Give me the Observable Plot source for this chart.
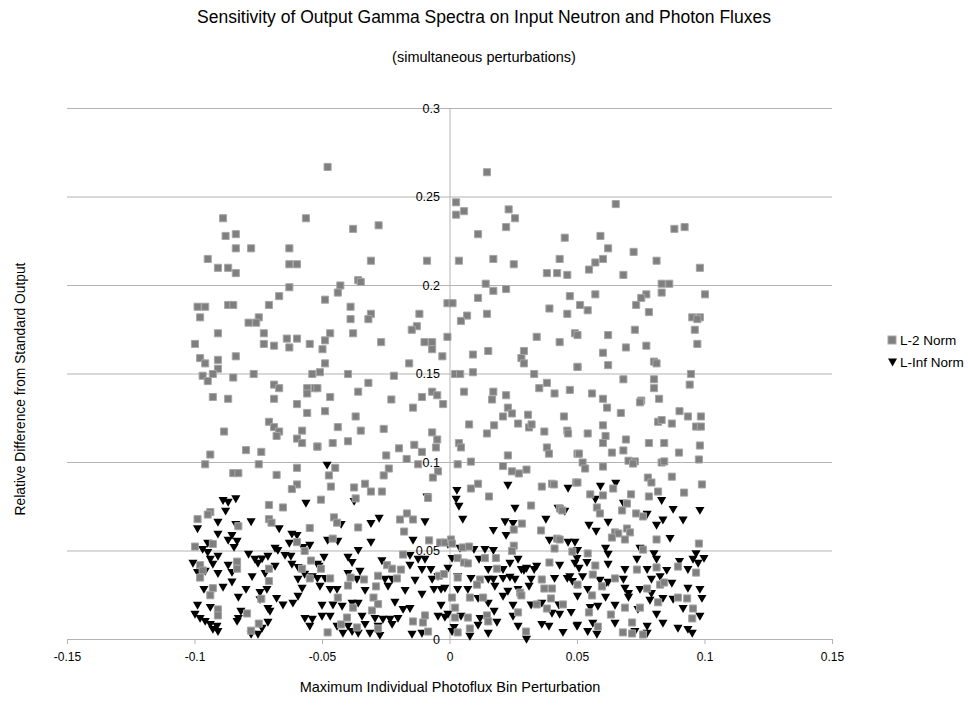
<!DOCTYPE html>
<html>
<head>
<meta charset="utf-8">
<script src="https://cdn.jsdelivr.net/npm/d3@7"></script>
<script src="https://cdn.jsdelivr.net/npm/@observablehq/plot@0.6"></script>
<style>
  html, body { margin: 0; padding: 0; background: #fff; }
  #wrap { position: relative; width: 968px; height: 707px; font-family: "Liberation Sans", Arial, sans-serif; color: #000; }
  #title { position: absolute; left: 0; width: 968px; top: 6px; text-align: center; font-size: 17.5px; line-height: 22px; }
  #subtitle { position: absolute; left: 0; width: 968px; top: 47px; text-align: center; font-size: 14.5px; line-height: 20px; }
  #chart { position: absolute; left: 0; top: 90px; }
  #legend { position: absolute; left: 887px; top: 329px; font-size: 13.5px; }
  .row { display: flex; align-items: center; height: 22px; }
  .row svg { margin-right: 2px; }
</style>
</head>
<body>
<div id="wrap">
  <div id="title"></div>
  <div id="subtitle"></div>
  <div id="chart"></div>
  <div id="legend"></div>
</div>
<script>
const titleText = "Sensitivity of Output Gamma Spectra on Input Neutron and Photon Fluxes";
const subtitleText = "(simultaneous perturbations)";
const xLabel = "Maximum Individual Photoflux Bin Perturbation";
const yLabel = "Relative Difference from Standard Output";
const seriesNames = ["L-2 Norm", "L-Inf Norm"];
const xTicks = [-0.15, -0.1, -0.05, 0, 0.05, 0.1, 0.15];
const xTickLabels = ["-0.15", "-0.1", "-0.05", "0", "0.05", "0.1", "0.15"];
const yTicks = [0, 0.05, 0.1, 0.15, 0.2, 0.25, 0.3];
const yTickLabels = ["0", "0.05", "0.1", "0.15", "0.2", "0.25", "0.3"];

// L-2 Norm series: [perturbation, relative difference]
const l2Norm = [
[-0.089,0.238],[-0.0565,0.238],[-0.088,0.228],[-0.084,0.229],[-0.084,0.221],[-0.078,0.221],[-0.063,0.221],
[-0.095,0.215],[-0.091,0.210],[-0.087,0.210],[-0.084,0.207],[-0.063,0.212],[-0.060,0.212],[-0.063,0.199],
[-0.067,0.194],[-0.071,0.189],[-0.099,0.188],[-0.096,0.188],[-0.087,0.189],[-0.085,0.189],[-0.098,0.182],
[-0.075,0.182],[-0.079,0.179],[-0.076,0.179],[-0.091,0.173],[-0.073,0.173],[-0.100,0.167],[-0.073,0.167],
[-0.069,0.166],[-0.064,0.170],[-0.060,0.170],[-0.063,0.165],[-0.055,0.167],[-0.098,0.159],[-0.096,0.156],
[-0.091,0.158],[-0.084,0.160],[-0.091,0.153],[-0.097,0.149],[-0.093,0.150],[-0.095,0.146],[-0.085,0.148],
[-0.077,0.150],[-0.069,0.144],[-0.067,0.142],[-0.054,0.150],[-0.056,0.142],[-0.053,0.142],[-0.093,0.137],
[-0.087,0.136],[-0.069,0.136],[-0.056,0.139],
[-0.048,0.267],[-0.038,0.232],[-0.028,0.234],[-0.031,0.214],[-0.009,0.214],[-0.036,0.203],[-0.035,0.202],
[-0.043,0.200],[-0.044,0.196],[-0.049,0.192],[-0.001,0.190],[-0.039,0.188],[-0.039,0.181],[-0.031,0.184],
[-0.032,0.181],[-0.012,0.184],[-0.013,0.177],[-0.015,0.175],[-0.047,0.173],[-0.049,0.169],[-0.038,0.173],
[-0.027,0.168],[-0.010,0.168],[-0.007,0.168],[-0.007,0.164],[-0.003,0.160],[-0.050,0.164],[-0.049,0.156],
[-0.016,0.156],[-0.051,0.151],[-0.040,0.150],[-0.022,0.149],[-0.052,0.142],[-0.036,0.140],[-0.032,0.145],
[-0.047,0.137],[-0.011,0.137],[-0.007,0.140],[-0.005,0.138],
[0.0145,0.264],[0.0024,0.247],[0.0055,0.242],[0.0024,0.240],[0.023,0.243],[0.0255,0.238],[0.022,0.233],
[0.011,0.229],[0.045,0.227],[0.0035,0.214],[0.017,0.215],[0.025,0.212],[0.043,0.215],[0.038,0.207],
[0.042,0.207],[0.046,0.206],[0.014,0.201],[0.017,0.197],[0.022,0.198],[0.047,0.194],[0.001,0.190],
[0.011,0.193],[0.0145,0.184],[0.0067,0.183],[0.0043,0.180],[0.039,0.187],[0.046,0.184],[-0.001,0.171],
[0.034,0.171],[0.043,0.168],[0.049,0.173],[0.009,0.161],[0.015,0.163],[0.029,0.163],[0.028,0.159],
[0.029,0.156],[0.050,0.154],[0.002,0.150],[0.004,0.150],[0.009,0.151],[0.033,0.150],[0.038,0.145],
[0.035,0.142],[0.0055,0.140],[0.017,0.140],[0.022,0.138],[0.041,0.139],[0.047,0.141],
[0.065,0.246],[0.059,0.228],[0.088,0.232],[0.092,0.233],[0.062,0.221],[0.072,0.219],[0.057,0.213],
[0.060,0.215],[0.0545,0.209],[0.081,0.214],[0.098,0.210],[0.068,0.206],[0.083,0.201],[0.086,0.201],
[0.083,0.196],[0.057,0.195],[0.077,0.195],[0.100,0.195],[0.075,0.193],[0.073,0.189],[0.051,0.189],
[0.054,0.186],[0.078,0.185],[0.095,0.182],[0.098,0.182],[0.097,0.181],[0.096,0.175],[0.0725,0.175],
[0.062,0.172],[0.050,0.172],[0.097,0.167],[0.060,0.162],[0.069,0.165],[0.077,0.166],[0.080,0.157],
[0.081,0.156],[0.062,0.155],[0.050,0.154],[0.0945,0.150],[0.068,0.147],[0.080,0.147],[0.094,0.144],
[0.080,0.142],[0.0557,0.139],[0.060,0.136],[0.075,0.135],[0.082,0.136],
[-0.060,0.133],[-0.056,0.128],[-0.071,0.123],[-0.069,0.120],[-0.067,0.1175],[-0.068,0.115],[-0.0886,0.1175],
[-0.058,0.118],[-0.060,0.1135],[-0.058,0.111],[-0.052,0.109],[-0.080,0.107],[-0.074,0.106],[-0.094,0.1045],
[-0.096,0.099],[-0.075,0.099],[-0.060,0.097],[-0.085,0.094],[-0.083,0.094],[-0.068,0.093],[-0.060,0.0876],
[-0.062,0.085],[-0.071,0.076],[-0.0655,0.0746],[-0.094,0.072],[-0.095,0.0706],[-0.071,0.068],[-0.070,0.066],
[-0.099,0.068],[-0.083,0.064],[-0.055,0.063],[-0.093,0.054],[-0.100,0.0525],[-0.060,0.055],[-0.057,0.050],
[-0.0545,0.0446],[-0.0835,0.044],[-0.0835,0.040],[-0.098,0.042],[-0.097,0.039],[-0.098,0.035],[-0.071,0.040],
[-0.071,0.033],[-0.058,0.040],[-0.055,0.0345],[-0.093,0.029],[-0.094,0.025],[-0.074,0.023],[-0.091,0.017],
[-0.091,0.0136],[-0.0796,0.0147],[-0.075,0.009],[-0.078,0.005],
[-0.023,0.1356],[-0.0027,0.133],[-0.049,0.129],[-0.0145,0.131],[-0.037,0.126],[-0.044,0.120],[-0.035,0.118],
[-0.026,0.119],[-0.007,0.117],[-0.005,0.113],[-0.052,0.109],[-0.046,0.111],[-0.040,0.112],[-0.014,0.110],
[-0.020,0.108],[-0.011,0.106],[-0.0055,0.1085],[-0.025,0.104],[-0.017,0.102],[-0.0125,0.099],[-0.045,0.097],
[-0.024,0.0966],[-0.0047,0.095],[-0.0475,0.0927],[-0.0067,0.0915],[-0.026,0.0927],[-0.0467,0.0864],[-0.0376,0.0859],
[-0.0333,0.088],[-0.031,0.0836],[-0.0267,0.0836],[-0.0506,0.079],[-0.037,0.0797],[-0.0086,0.080],[-0.0455,0.069],
[-0.0443,0.066],[-0.0169,0.0712],[-0.0196,0.0678],[-0.0145,0.0678],[-0.036,0.0633],[-0.018,0.061],[-0.046,0.057],
[-0.0082,0.056],[-0.0039,0.0548],[-0.002,0.0548],[-0.0184,0.048],[-0.0506,0.040],[-0.0247,0.042],[-0.0227,0.040],
[-0.0192,0.0395],[-0.0282,0.036],[-0.0208,0.0345],[-0.0043,0.036],[-0.0024,0.037],[-0.047,0.0345],[-0.039,0.035],
[-0.0337,0.0339],[-0.040,0.0305],[-0.029,0.030],[-0.044,0.0237],[-0.030,0.0237],[-0.0282,0.020],[-0.038,0.018],
[-0.0306,0.0164],[-0.0404,0.0124],[-0.0098,0.0136],[-0.0106,0.0096],[-0.0145,0.0102],[-0.0427,0.0085],[-0.0282,0.0062],
[-0.048,0.004],[-0.0086,0.0045],[-0.0365,0.0068],
[0.0165,0.1356],[0.0227,0.131],[0.0243,0.1277],[0.0208,0.126],[0.0306,0.127],[0.0447,0.126],[0.0075,0.1215],
[0.0173,0.121],[0.0267,0.122],[0.031,0.1198],[0.032,0.1215],[0.0145,0.1164],[0.037,0.1175],[0.046,0.118],
[0.0463,0.1164],[0.0035,0.111],[0.0043,0.1085],[0.038,0.1085],[0.0388,0.105],[0.0227,0.104],[0.050,0.105],
[0.003,0.099],[0.0082,0.1005],[0.0208,0.098],[0.0243,0.095],[0.027,0.0938],[0.030,0.096],[0.0082,0.0853],
[0.011,0.088],[0.0153,0.0808],[0.036,0.0864],[0.040,0.088],[0.0408,0.0876],[0.0494,0.0887],[0.0318,0.0757],
[0.0431,0.074],[0.044,0.0729],[0.0282,0.0655],[0.025,0.0621],[0.0357,0.0616],[0.042,0.057],[0.043,0.0565],
[0.0004,0.0565],[0.0008,0.0542],[0.005,0.052],[0.0075,0.0525],[0.025,0.053],[0.0243,0.050],[0.041,0.0514],
[0.048,0.0497],[0.003,0.046],[0.0137,0.046],[0.018,0.046],[0.0055,0.0435],[0.007,0.043],[0.039,0.0435],
[0.0184,0.040],[0.003,0.035],[0.0118,0.0339],[0.0106,0.031],[0.036,0.0339],[0.0275,0.0265],[0.028,0.0249],
[0.037,0.0288],[0.040,0.0288],[0.0396,0.0232],[0.0008,0.0237],[0.0078,0.0237],[0.013,0.0237],[0.0267,0.0153],
[0.034,0.0198],[0.038,0.0175],[0.0443,0.0198],[0.002,0.018],[0.002,0.0124],[0.007,0.0124],[0.0145,0.0136],
[0.015,0.0102],[0.003,0.004],[0.0078,0.0062],[0.0298,0.0045],
[0.0745,0.134],[0.0616,0.131],[0.067,0.128],[0.090,0.129],[0.0933,0.126],[0.0984,0.126],[0.0816,0.123],
[0.083,0.124],[0.087,0.122],[0.0965,0.1203],[0.0984,0.1203],[0.060,0.121],[0.054,0.1164],[0.061,0.115],
[0.060,0.111],[0.069,0.113],[0.078,0.111],[0.084,0.111],[0.098,0.1096],[0.0506,0.105],[0.0635,0.1056],
[0.068,0.1068],[0.0898,0.1056],[0.052,0.100],[0.053,0.0966],[0.060,0.0977],[0.070,0.101],[0.0725,0.1006],
[0.0718,0.0994],[0.083,0.100],[0.084,0.1006],[0.0976,0.1017],[0.050,0.0887],[0.0776,0.0915],[0.079,0.0887],
[0.087,0.092],[0.0988,0.0876],[0.0816,0.0836],[0.0918,0.083],[0.055,0.082],[0.060,0.0814],[0.064,0.0853],
[0.071,0.082],[0.078,0.0808],[0.0694,0.0768],[0.0675,0.0729],[0.0576,0.0746],[0.0588,0.0712],[0.073,0.0712],
[0.0757,0.0695],[0.0647,0.0605],[0.066,0.0599],[0.0694,0.0627],[0.0706,0.0605],[0.0635,0.0576],[0.0686,0.0565],
[0.081,0.0565],[0.0976,0.0542],[0.0757,0.0508],[0.054,0.0486],[0.057,0.0418],[0.056,0.0367],[0.081,0.0407],
[0.0894,0.0412],[0.0733,0.0395],[0.0965,0.0378],[0.0647,0.0345],[0.050,0.031],[0.0596,0.030],[0.0773,0.0288],
[0.0824,0.031],[0.084,0.0322],[0.0557,0.0249],[0.0894,0.0237],[0.093,0.0232],[0.0816,0.021],[0.0953,0.0175],
[0.0686,0.018],[0.0745,0.018],[0.0545,0.0153],[0.0631,0.0141],[0.095,0.0119],[0.0714,0.0096],[0.058,0.0073],
[0.0678,0.004],[0.0714,0.0034],[0.0757,0.0028]
];

// L-Inf Norm series: [perturbation, relative difference]
const lInfNorm = [
[-0.084,0.080],[-0.089,0.079],[-0.087,0.078],[-0.088,0.073],[-0.0565,0.0774],[-0.078,0.067],[-0.091,0.0667],
[-0.084,0.0655],[-0.099,0.063],[-0.091,0.060],[-0.067,0.063],[-0.0855,0.0593],[-0.087,0.0565],[-0.0835,0.056],
[-0.062,0.060],[-0.060,0.0593],[-0.095,0.0548],[-0.0847,0.0525],[-0.063,0.0548],[-0.055,0.0537],[-0.097,0.0514],
[-0.0686,0.052],[-0.095,0.0497],[-0.079,0.0486],[-0.0675,0.0508],[-0.0576,0.0525],[-0.094,0.0458],[-0.091,0.0475],
[-0.0765,0.0458],[-0.0737,0.046],[-0.0714,0.0475],[-0.0647,0.048],[-0.0624,0.0475],[-0.1008,0.0435],[-0.093,0.043],
[-0.087,0.0424],[-0.0753,0.0435],[-0.0686,0.0418],[-0.062,0.043],[-0.0596,0.0412],[-0.052,0.043],[-0.099,0.0384],
[-0.096,0.039],[-0.091,0.0378],[-0.0855,0.0384],[-0.0725,0.0378],[-0.057,0.0373],[-0.0776,0.036],[-0.054,0.036],
[-0.0855,0.033],[-0.0596,0.0345],[-0.089,0.030],[-0.080,0.0288],[-0.0718,0.0288],[-0.058,0.0294],[-0.0965,0.0288],
[-0.083,0.0243],[-0.0745,0.027],[-0.068,0.0237],[-0.0596,0.0249],[-0.0745,0.023],[-0.0655,0.020],[-0.0616,0.021],
[-0.099,0.0198],[-0.094,0.0186],[-0.0714,0.018],[-0.082,0.0164],[-0.100,0.0147],[-0.098,0.0124],[-0.0706,0.0164],
[-0.0569,0.0124],[-0.054,0.0119],[-0.096,0.0107],[-0.094,0.009],[-0.0914,0.0079],[-0.093,0.0062],[-0.091,0.005],
[-0.0835,0.0107],[-0.083,0.0124],[-0.0714,0.0102],[-0.078,0.0034],[-0.0753,0.0034],[-0.0737,0.0068],[-0.055,0.0079],
[-0.0482,0.099],[-0.0376,0.0785],[-0.0278,0.069],[-0.031,0.066],[-0.0427,0.0655],[-0.0098,0.067],[-0.009,0.081],
[-0.048,0.0565],[-0.044,0.056],[-0.031,0.0554],[-0.0145,0.0565],[-0.036,0.0508],[-0.0494,0.0469],[-0.040,0.0469],
[-0.0384,0.044],[-0.0267,0.045],[-0.0157,0.048],[-0.0125,0.0458],[-0.0098,0.0458],[-0.0514,0.0418],[-0.0353,0.039],
[-0.0157,0.0424],[-0.011,0.040],[-0.0075,0.040],[-0.052,0.035],[-0.049,0.035],[-0.040,0.0378],[-0.0365,0.0345],
[-0.0255,0.0345],[-0.0227,0.0345],[-0.0137,0.0339],[-0.007,0.0345],[-0.0047,0.036],[-0.051,0.0305],[-0.047,0.0288],
[-0.0443,0.0288],[-0.0333,0.0282],[-0.0243,0.0305],[-0.0176,0.0282],[-0.011,0.026],[-0.0063,0.0288],[-0.0035,0.0288],
[-0.0502,0.0198],[-0.0459,0.020],[-0.0423,0.0192],[-0.0384,0.021],[-0.036,0.021],[-0.0216,0.0215],[-0.0184,0.0175],
[-0.0157,0.018],[-0.0035,0.0198],[-0.0502,0.0136],[-0.047,0.0136],[-0.0345,0.0136],[-0.0294,0.0124],[-0.0263,0.0119],
[-0.0235,0.0119],[-0.0204,0.0124],[-0.0047,0.0136],[-0.002,0.013],[-0.0443,0.0079],[-0.040,0.0079],[-0.0333,0.009],
[-0.0282,0.0079],[-0.0227,0.009],[-0.042,0.004],[-0.0384,0.005],[-0.036,0.004],[-0.0314,0.004],[-0.0275,0.0028],
[-0.0149,0.0034],[-0.011,0.004],
[0.0027,0.0847],[0.0227,0.0876],[0.0463,0.0859],[0.0024,0.0797],[0.0035,0.0757],[0.0255,0.0746],[0.0424,0.0746],
[0.045,0.0729],[0.005,0.0684],[0.0216,0.067],[0.0247,0.066],[0.0376,0.0684],[0.017,0.0621],[0.022,0.0593],
[0.039,0.0565],[0.0463,0.0554],[0.049,0.0554],[-0.0008,0.0542],[0.0039,0.052],[0.0094,0.0514],[0.0137,0.0514],
[0.017,0.0508],[0.0008,0.0463],[0.0114,0.0458],[0.0235,0.0435],[0.0267,0.0458],[0.034,0.0418],[0.043,0.0424],
[0.049,0.0435],[-0.0008,0.0407],[0.015,0.040],[0.0208,0.040],[0.030,0.0407],[0.029,0.0395],[0.028,0.040],
[0.033,0.040],[0.003,0.036],[0.0082,0.035],[0.015,0.0345],[0.017,0.0345],[0.0208,0.035],[0.0235,0.0356],
[0.0255,0.0345],[0.0318,0.0345],[0.041,0.035],[0.046,0.035],[0.047,0.036],[-0.002,0.0294],[0.003,0.0288],
[0.007,0.0288],[0.0176,0.0305],[0.0227,0.0277],[0.031,0.0305],[0.048,0.0333],[0.0267,0.0288],[0.0208,0.0249],
[0.011,0.0237],[0.015,0.021],[0.0247,0.0198],[0.0318,0.020],[0.036,0.021],[0.0427,0.020],[0.0173,0.0164],
[0.0247,0.0136],[0.040,0.0153],[0.043,0.0147],[0.0475,0.0158],[-0.0008,0.0147],[0.0043,0.0136],[0.0118,0.0124],
[0.0184,0.0102],[0.011,0.0085],[0.0016,0.0073],[0.0267,0.0079],[0.036,0.009],[0.0388,0.0079],[0.0498,0.0079],
[0.0078,0.0023],[0.015,0.004],[0.030,0.0006],[0.0443,0.0045],[0.0008,0.005],
[0.065,0.0887],[0.059,0.087],[0.057,0.0797],[0.068,0.0774],[0.083,0.079],[0.0875,0.074],[0.098,0.0734],
[0.0773,0.0712],[0.062,0.0667],[0.0835,0.068],[0.0914,0.068],[0.0545,0.065],[0.081,0.065],[0.0573,0.0616],
[0.0863,0.0576],[0.061,0.052],[0.0745,0.052],[0.080,0.049],[0.0965,0.049],[0.0996,0.0463],[0.0498,0.0463],
[0.050,0.0508],[0.0537,0.044],[0.062,0.0486],[0.0733,0.0458],[0.081,0.0458],[0.090,0.0446],[0.0953,0.0458],
[0.0973,0.0435],[0.0506,0.0407],[0.062,0.043],[0.0686,0.040],[0.0773,0.040],[0.085,0.0395],[0.0933,0.040],
[0.052,0.036],[0.0588,0.0339],[0.062,0.0328],[0.068,0.0345],[0.079,0.0345],[0.0824,0.036],[0.087,0.0322],
[0.054,0.0288],[0.0604,0.0305],[0.0686,0.0294],[0.070,0.0265],[0.0745,0.0288],[0.079,0.0265],[0.0933,0.0294],
[0.098,0.0288],[0.050,0.0249],[0.061,0.0243],[0.070,0.0243],[0.0784,0.0226],[0.0835,0.0237],[0.0875,0.0232],
[0.0988,0.0237],[0.055,0.0186],[0.058,0.0192],[0.0647,0.0198],[0.0737,0.0175],[0.081,0.0147],[0.0914,0.018],
[0.098,0.0136],[0.050,0.0085],[0.056,0.0096],[0.0647,0.0096],[0.0773,0.0079],[0.0835,0.0096],[0.0894,0.0068],
[0.054,0.005],[0.0576,0.0034],[0.0725,0.005],[0.0773,0.004],[0.0933,0.0062],[0.095,0.004]
];

const squareFill = "#7f7f7f";
const squareStroke = "#a6a6a6";
const gridColor = "#b3b3b3";
const fontFamily = "'Liberation Sans', Arial, sans-serif";

document.getElementById("title").textContent = titleText;
document.getElementById("subtitle").textContent = subtitleText;

const chart = Plot.plot({
  width: 968,
  height: 617,
  marginTop: 18,
  marginBottom: 68,
  marginLeft: 67,
  marginRight: 136,
  style: {fontFamily, fontSize: "12px", color: "#000", background: "#fff"},
  x: {domain: [-0.15, 0.15]},
  y: {domain: [0, 0.3]},
  marks: [
    Plot.ruleY(yTicks, {stroke: gridColor, strokeWidth: 1}),
    Plot.ruleX([0], {y1: 0, y2: 0.3, stroke: gridColor, strokeWidth: 1}),
    Plot.axisX({ticks: xTicks, tickFormat: (d) => xTickLabels[xTicks.indexOf(d)], tickSize: 5, tickPadding: 8, stroke: gridColor, fontSize: 12, label: null}),
    Plot.axisY({ticks: [], label: null}),
    Plot.text(yTicks, {x: 0, y: d => d, text: (d, i) => yTickLabels[i], textAnchor: "end", dx: -10, fontSize: 12.5, fill: "#000"}),
    Plot.dot(lInfNorm, {x: d => d[0], y: d => d[1], symbol: "triangle", rotate: 180, r: 3.4, fill: "#000", stroke: "none"}),
    Plot.dot(l2Norm, {x: d => d[0], y: d => d[1], symbol: "square", r: 4.0, fill: squareFill, stroke: squareStroke, strokeWidth: 1}),
    Plot.text([xLabel], {frameAnchor: "bottom", dy: 52, fontSize: 14.5, fill: "#000"}),
    Plot.text([yLabel], {frameAnchor: "left", textAnchor: "middle", dx: -47, dy: 15, rotate: -90, fontSize: 13.8, fill: "#000"})
  ]
});
document.getElementById("chart").appendChild(chart);

// legend
const legend = document.getElementById("legend");
const sq = `<svg width="11" height="11"><rect x="1" y="1" width="8" height="8" fill="${squareFill}" stroke="${squareStroke}"/></svg>`;
const tri = `<svg width="11" height="11"><path d="M1,1.5 L10,1.5 L5.5,9.5 Z" fill="#000"/></svg>`;
legend.innerHTML = `<div class="row">${sq}<span>${seriesNames[0]}</span></div><div class="row">${tri}<span>${seriesNames[1]}</span></div>`;
</script>
</body>
</html>
